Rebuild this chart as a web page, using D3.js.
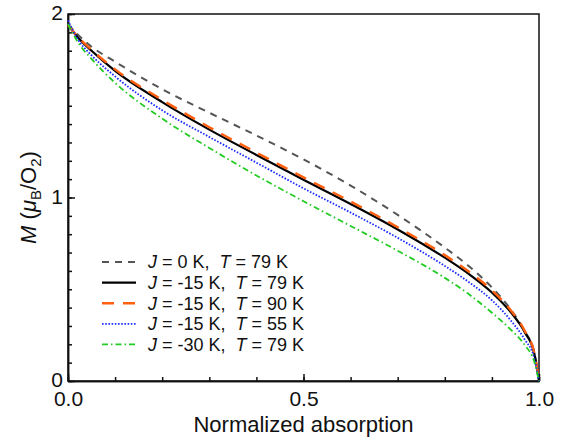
<!DOCTYPE html>
<html>
<head>
<meta charset="utf-8">
<script src="https://cdn.jsdelivr.net/npm/d3@7"></script>
<style>
  body { margin: 0; background: #fff; }
  text { font-family: "Liberation Sans", Arial, sans-serif; fill: #111; }
</style>
</head>
<body>
<div id="chart-area"></div>
<script>
const margin = {left: 68, right: 31, top: 14, bottom: 60};
const width = 570 - margin.left - margin.right;
const height = 441 - margin.top - margin.bottom;

// data: normalized absorption vs M (muB/O2)
const absorption = [0, 0.02, 0.05, 0.1, 0.2, 0.3, 0.4, 0.5, 0.6, 0.7, 0.8, 0.85, 0.9, 0.94, 0.97, 0.99, 1.0];
const magGray    = [1.945, 1.89, 1.822, 1.74, 1.59, 1.462, 1.338, 1.208, 1.065, 0.905, 0.727, 0.628, 0.51, 0.39, 0.27, 0.155, 0.0];
const magBlack   = [1.94, 1.875, 1.80, 1.69, 1.52, 1.37, 1.232, 1.097, 0.965, 0.826, 0.672, 0.585, 0.482, 0.375, 0.265, 0.15, 0.0];
const magOrange  = [1.94, 1.878, 1.805, 1.698, 1.532, 1.383, 1.245, 1.11, 0.978, 0.838, 0.686, 0.598, 0.494, 0.385, 0.272, 0.153, 0.0];
const magBlue    = [1.965, 1.865, 1.775, 1.66, 1.475, 1.33, 1.19, 1.05, 0.918, 0.78, 0.627, 0.541, 0.44, 0.33, 0.225, 0.125, 0.0];
const magGreen   = [1.945, 1.85, 1.755, 1.625, 1.43, 1.27, 1.12, 0.98, 0.845, 0.71, 0.562, 0.475, 0.372, 0.28, 0.195, 0.105, 0.0];

const legendJ = ['0', '-15', '-15', '-15', '-30'];
const legendT = ['79', '79', '90', '55', '79'];

const xTicks = [0, 0.5, 1.0];
const yTicks = [0, 1, 2];

const series = [
  {y: magGray,   color: '#555555', dash: '7,6',       w: 2},
  {y: magBlack,  color: '#000000', dash: null,        w: 2.2},
  {y: magOrange, color: '#ff6010', dash: '12,9',      w: 2.4},
  {y: magBlue,   color: '#1a2cff', dash: '1.6,1.6',   w: 1.8},
  {y: magGreen,  color: '#22cc22', dash: '6,3,1.5,3', w: 1.8}
];

const svg = d3.select('#chart-area')
  .append('svg')
  .attr('width', 570)
  .attr('height', 441);

const g = svg.append('g')
  .attr('transform', `translate(${margin.left}, ${margin.top})`);

const x = d3.scaleLinear().domain([0, 1]).range([0, width]);
const y = d3.scaleLinear().domain([0, 2]).range([height, 0]);

// minor ticks
g.append('g')
  .attr('transform', `translate(0, ${height})`)
  .call(d3.axisBottom(x).tickValues(d3.range(0, 11).map(i => i / 10)).tickSizeInner(-4).tickSizeOuter(0).tickFormat(''));
g.append('g')
  .call(d3.axisLeft(y).tickValues(d3.range(0, 21).map(i => i / 10)).tickSizeInner(-4).tickSizeOuter(0).tickFormat(''));

// major ticks + labels
const xAxisGroup = g.append('g')
  .attr('class', 'x-axis')
  .attr('transform', `translate(0, ${height})`)
  .call(d3.axisBottom(x).tickValues(xTicks).tickSizeInner(-7).tickSizeOuter(0).tickPadding(10).tickFormat(d3.format('.1f')));

const yAxisGroup = g.append('g')
  .attr('class', 'y-axis')
  .call(d3.axisLeft(y).tickValues(yTicks).tickSizeInner(-7).tickSizeOuter(0).tickPadding(5).tickFormat(d3.format('d')));

g.selectAll('.tick text').attr('font-size', 21).attr('font-family', '"Liberation Sans", Arial, sans-serif').attr('fill', '#111');
yAxisGroup.selectAll('.tick text').attr('dy', '0.28em');
g.selectAll('.domain, .tick line').attr('stroke', '#111').attr('stroke-width', 1.5);

// box
g.append('rect')
  .attr('width', width)
  .attr('height', height)
  .attr('fill', 'none')
  .attr('stroke', '#111')
  .attr('stroke-width', 1.5);

const line = d3.line()
  .x(d => x(d[0]))
  .y(d => y(d[1]))
  .curve(d3.curveMonotoneX);

series.forEach(s => {
  g.append('path')
    .datum(absorption.map((v, i) => [v, s.y[i]]))
    .attr('fill', 'none')
    .attr('stroke', s.color)
    .attr('stroke-width', s.w)
    .attr('stroke-dasharray', s.dash)
    .attr('d', line);
});

// X Label
g.append('text')
  .attr('x', width / 2)
  .attr('y', height + 51)
  .attr('font-size', 22)
  .attr('text-anchor', 'middle')
  .text('Normalized absorption');

// Y Label
const yLabel = svg.append('text')
  .attr('transform', `translate(36, ${margin.top + height / 2}) rotate(-90)`)
  .attr('font-size', 22)
  .attr('text-anchor', 'middle');
yLabel.append('tspan').attr('font-style', 'italic').text('M');
yLabel.append('tspan').text(' (');
yLabel.append('tspan').attr('font-style', 'italic').text('\u03bc');
yLabel.append('tspan').attr('font-size', 15).attr('dy', 5).text('B');
yLabel.append('tspan').attr('dy', -5).text('/O');
yLabel.append('tspan').attr('font-size', 15).attr('dy', 5).text('2');
yLabel.append('tspan').attr('dy', -5).text(')');

// Legend
const legend = g.append('g')
  .attr('transform', `translate(${102 - margin.left}, ${262 - margin.top})`);

series.forEach((s, i) => {
  const row = legend.append('g')
    .attr('transform', `translate(0, ${i * 20.6})`);
  row.append('line')
    .attr('x1', 0).attr('x2', 34)
    .attr('stroke', s.color)
    .attr('stroke-width', s.w)
    .attr('stroke-dasharray', s.dash);
  const t = row.append('text')
    .attr('x', 46)
    .attr('dy', '0.36em')
    .attr('font-size', 18)
    .style('white-space', 'pre');
  t.append('tspan').attr('font-style', 'italic').text('J');
  t.append('tspan').text(` = ${legendJ[i]} K,  `);
  t.append('tspan').attr('font-style', 'italic').text('T');
  t.append('tspan').text(` = ${legendT[i]} K`);
});
</script>
</body>
</html>
